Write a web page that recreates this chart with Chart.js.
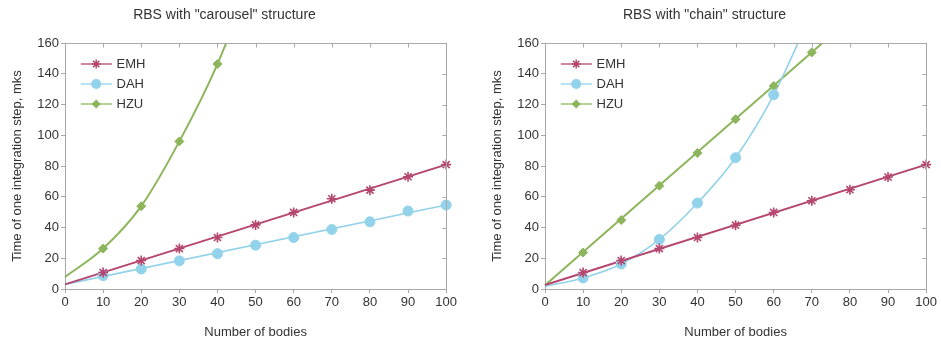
<!DOCTYPE html>
<html><head><meta charset="utf-8">
<script src="https://cdn.jsdelivr.net/npm/chart.js@4.4.1/dist/chart.umd.min.js"></script>
<style>
html,body{margin:0;padding:0;background:#fff;width:941px;height:340px;overflow:hidden;}
.box{position:absolute;top:0;width:459px;height:340px;}
</style></head><body>
<div class="box" style="left:0"><canvas id="c1"></canvas></div>
<div class="box" style="left:480px"><canvas id="c2"></canvas></div>
<script>
// ---- data ----
const bodies = [10, 20, 30, 40, 50, 60, 70, 80, 90, 100];
const seriesNames = ['EMH', 'DAH', 'HZU'];
const chartTitles = ['RBS with "carousel" structure', 'RBS with "chain" structure'];
const xTitle = 'Number of bodies';
const yTitle = 'Time of one integration step, mks';

// measured points (markers)
const emhCarousel = [10.7, 18.5, 26.3, 33.5, 41.7, 49.8, 58.7, 64.3, 73, 80.9];
const dahCarousel = [8.7, 13, 18.3, 23, 28.5, 33.5, 38.7, 43.7, 50.7, 54.6];
const hzuCarousel = [26.3, 53.9, 96, 146.3];
const emhChain = [10.7, 18.5, 26.3, 33.5, 41.5, 49.8, 57.4, 64.6, 72.8, 80.9];
const dahChain = [7.2, 16.3, 32.2, 55.9, 85.4, 126.3];
const hzuChain = [23.7, 44.8, 67.2, 88.5, 110.4, 132, 153.9];

// trend curves as drawn in the reference: [x, y] points
const emhCarouselTrend = [[0, 3], [100, 80.9]];
const dahCarouselTrend = [[0, 3], [100, 54.6]];
const hzuCarouselTrend = [[0, 7.8], [10, 26.3], [20, 53.9], [30, 96], [40, 146.3], [50, 210]];
const emhChainTrend = [[0, 2.6], [100, 80.9]];
const dahChainTrend = [[0, 1.7], [10, 7.2], [20, 16.3], [30, 32.2], [40, 55.9], [50, 85.4], [60, 126.3], [70, 180]];
const hzuChainTrend = [[0, 2.4], [80, 175.6]];

// ---- styles ----
const colors = {EMH: '#b5466f', DAH: '#92d2ea', HZU: '#8db55c'};
const markers = {EMH: 'star', DAH: 'circle', HZU: 'rectRot'};
const radii = {EMH: 5, DAH: 5, HZU: 4.5};
const widths = {EMH: 2, DAH: 1.6, HZU: 2};
const frameColor = '#a8a8a8';
const textColor = '#333333';
Chart.defaults.font.family = '"Liberation Sans", Arial, sans-serif';
Chart.defaults.color = textColor;

function legendImage(name) {
  const c = document.createElement('canvas');
  c.width = 42; c.height = 12;
  const g = c.getContext('2d');
  const col = colors[name];
  g.strokeStyle = col; g.fillStyle = col; g.lineWidth = 1.3;
  g.beginPath(); g.moveTo(10.7, 6); g.lineTo(42, 6); g.stroke();
  const cx = 26.2, cy = 6;
  if (name === 'EMH') {
    g.lineWidth = 1.5; g.beginPath();
    const r = 4.5;
    for (let k = 0; k < 4; k++) {
      const a = k * Math.PI / 4;
      g.moveTo(cx - r * Math.cos(a), cy - r * Math.sin(a));
      g.lineTo(cx + r * Math.cos(a), cy + r * Math.sin(a));
    }
    g.stroke();
  } else if (name === 'DAH') {
    g.beginPath(); g.arc(cx, cy, 5, 0, 2 * Math.PI); g.fill();
  } else {
    const r = 4.5; g.beginPath();
    g.moveTo(cx, cy - r); g.lineTo(cx + r, cy); g.lineTo(cx, cy + r); g.lineTo(cx - r, cy); g.closePath(); g.fill();
  }
  return c;
}
const legendImgs = {};
seriesNames.forEach(n => legendImgs[n] = legendImage(n));

const clipArea = {left: 8, right: 8, top: 0, bottom: 8};

function curveSet(name, pts) {
  return {
    label: name + ' trend', isTrend: true,
    data: pts.map(p => ({x: p[0], y: p[1]})),
    borderColor: colors[name], backgroundColor: colors[name],
    borderWidth: widths[name], pointRadius: 0, pointHoverRadius: 0,
    cubicInterpolationMode: 'monotone', fill: false, clip: clipArea, order: 2
  };
}
function markerSet(name, vals) {
  return {
    label: name,
    data: vals.map((v, i) => ({x: bodies[i], y: v})),
    showLine: false,
    borderColor: colors[name], backgroundColor: colors[name],
    pointStyle: markers[name], pointRadius: radii[name], pointHoverRadius: radii[name],
    pointBorderWidth: name === 'EMH' ? 1.6 : 1,
    pointBorderColor: colors[name], pointBackgroundColor: colors[name],
    clip: clipArea, order: 1
  };
}

const framePlugin = {
  id: 'frame',
  afterDatasetsDraw(chart) {
    const {ctx, chartArea: a, scales} = chart;
    ctx.save();
    ctx.strokeStyle = frameColor; ctx.lineWidth = 1;
    const L = Math.round(a.left) + 0.5, T = Math.round(a.top) + 0.5;
    const R = Math.round(a.right) + 0.5, B = Math.round(a.bottom) + 0.5;
    ctx.beginPath();
    ctx.moveTo(L, T); ctx.lineTo(R, T); ctx.lineTo(R, B);
    scales.x.ticks.forEach(t => {
      const px = Math.round(scales.x.getPixelForValue(t.value)) + 0.5;
      ctx.moveTo(px, T); ctx.lineTo(px, T + 4);
    });
    scales.y.ticks.forEach(t => {
      const py = Math.round(scales.y.getPixelForValue(t.value)) + 0.5;
      ctx.moveTo(R, py); ctx.lineTo(R - 4, py);
    });
    ctx.stroke();
    ctx.restore();
  }
};

function makeChart(id, title, sets) {
  return new Chart(document.getElementById(id), {
    type: 'line',
    data: {datasets: sets},
    plugins: [framePlugin],
    options: {
      responsive: true,
      maintainAspectRatio: false,
      animation: false,
      events: [],
      layout: {padding: {left: 0, right: 10, top: 0, bottom: 0}},
      plugins: {
        tooltip: {enabled: false},
        title: {
          display: true, text: title, color: textColor,
          font: {size: 14, weight: 'normal'},
          padding: {top: 6.6, bottom: 19.6}
        },
        legend: {
          position: 'chartArea', align: 'start',
          title: {display: true, text: ' ', font: {size: 1}, padding: {top: 0, bottom: 49.3}},
          labels: {
            usePointStyle: true, pointStyleWidth: 38, padding: 7,
            color: textColor, font: {size: 13},
            generateLabels(chart) {
              const out = [];
              chart.data.datasets.forEach((d, i) => {
                if (d.isTrend) return;
                out.push({
                  text: d.label, pointStyle: legendImgs[d.label], datasetIndex: i,
                  hidden: false, lineWidth: 0, fillStyle: 'rgba(0,0,0,0)',
                  strokeStyle: 'rgba(0,0,0,0)', fontColor: textColor
                });
              });
              return out;
            }
          }
        }
      },
      scales: {
        x: {
          type: 'linear', min: 0, max: 100,
          afterFit(s) { s.height = 51; },
          ticks: {stepSize: 10, maxRotation: 0, autoSkip: false, padding: 2, color: textColor, font: {size: 13}},
          grid: {drawOnChartArea: false, drawTicks: true, tickLength: 4, color: frameColor},
          border: {display: true, color: frameColor},
          title: {display: true, text: xTitle, color: textColor, font: {size: 13}, padding: {top: 5, bottom: 0}}
        },
        y: {
          type: 'linear', min: 0, max: 160,
          afterFit(s) { s.width = 65; },
          ticks: {stepSize: 20, padding: 2, color: textColor, font: {size: 13}},
          grid: {drawOnChartArea: false, drawTicks: true, tickLength: 4, color: frameColor},
          border: {display: true, color: frameColor},
          title: {display: true, text: yTitle, color: textColor, font: {size: 13}, padding: {top: 10, bottom: 0}}
        }
      }
    }
  });
}

makeChart('c1', chartTitles[0], [
  markerSet('EMH', emhCarousel),
  markerSet('DAH', dahCarousel),
  markerSet('HZU', hzuCarousel),
  curveSet('EMH', emhCarouselTrend),
  curveSet('DAH', dahCarouselTrend),
  curveSet('HZU', hzuCarouselTrend)
]);
makeChart('c2', chartTitles[1], [
  markerSet('EMH', emhChain),
  markerSet('DAH', dahChain),
  markerSet('HZU', hzuChain),
  curveSet('EMH', emhChainTrend),
  curveSet('DAH', dahChainTrend),
  curveSet('HZU', hzuChainTrend)
]);
</script>
</body></html>
